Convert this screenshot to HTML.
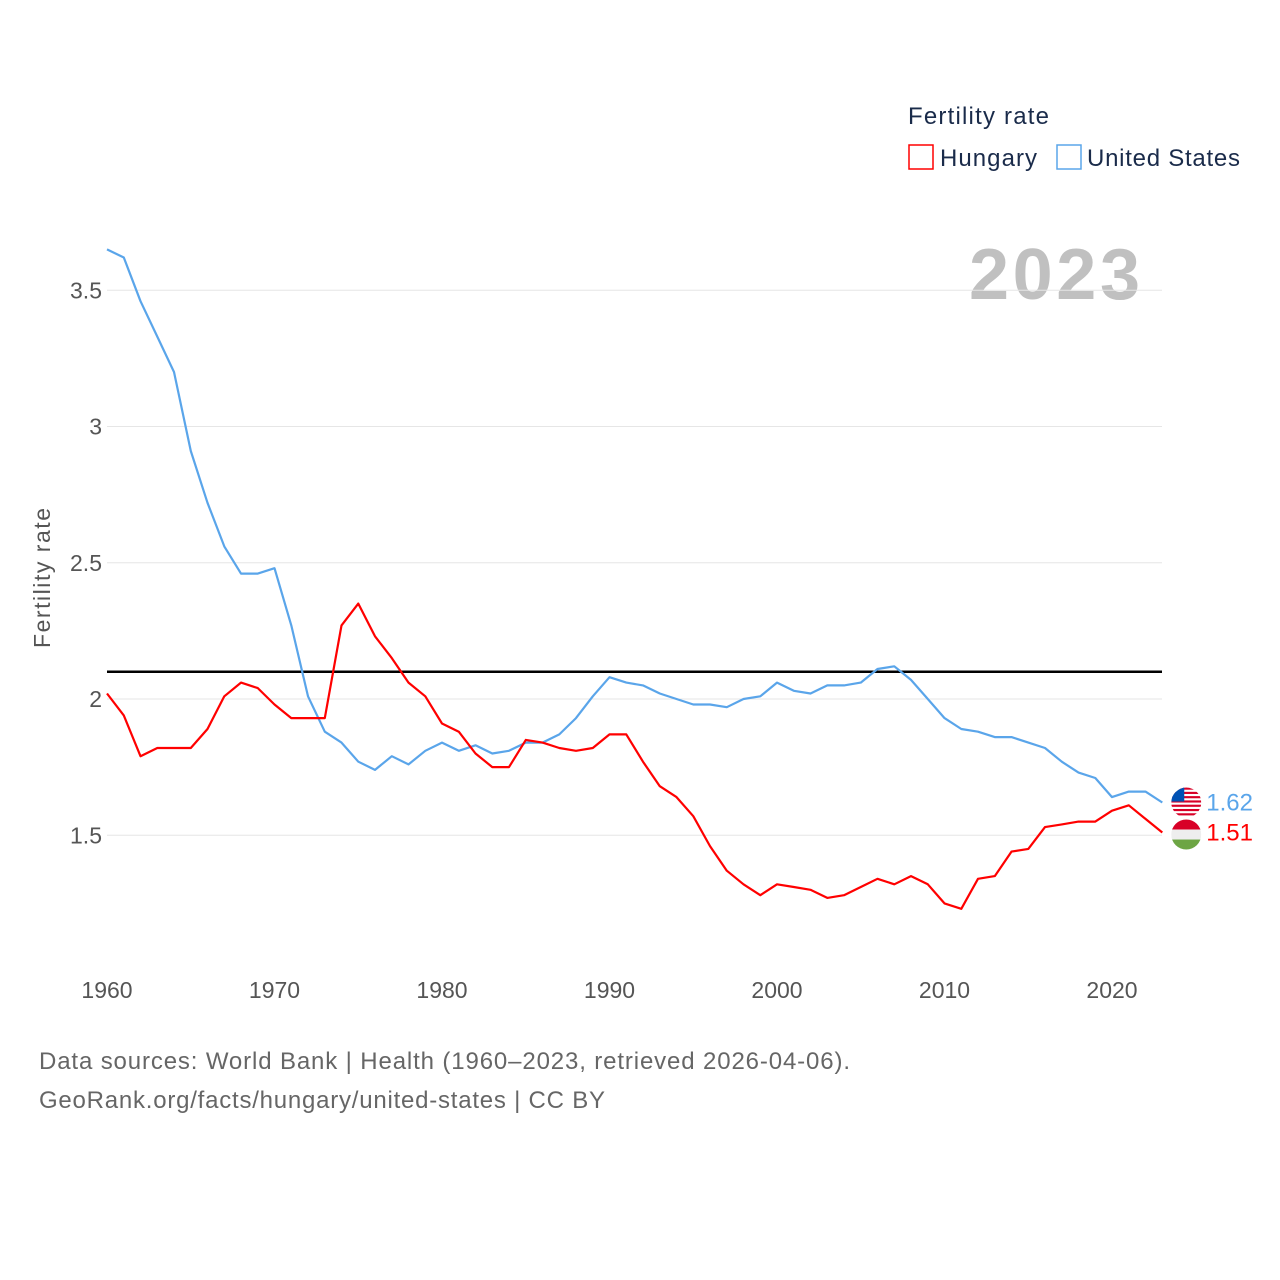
<!DOCTYPE html>
<html><head><meta charset="utf-8"><style>
html,body{margin:0;padding:0;background:#fff;}
svg{display:block;font-family:"Liberation Sans",sans-serif;}
</style></head><body>
<svg id="chart" width="1280" height="1280" viewBox="0 0 1280 1280">
<g>
<text x="908" y="124" font-size="24" fill="#1a2b4a" textLength="141">Fertility rate</text>
<rect x="909" y="145" width="24" height="24" fill="none" stroke="#ff0000" stroke-width="1.5"/>
<text x="940" y="166" font-size="24" fill="#1a2b4a" textLength="97">Hungary</text>
<rect x="1057" y="145" width="24" height="24" fill="none" stroke="#5aa5ea" stroke-width="1.5"/>
<text x="1087" y="166" font-size="24" fill="#1a2b4a" textLength="153">United States</text>
</g>
<text x="969" y="299" font-size="72" font-weight="bold" fill="#c0c0c0" textLength="171">2023</text>
<g id="grid"></g>
<g id="yticks"></g>
<g id="xticks"></g>
<text transform="translate(50,578) rotate(-90)" font-size="23" fill="#555" text-anchor="middle" textLength="140">Fertility rate</text>
<g id="series"></g>
<g id="ends"></g>
<text x="39" y="1069" font-size="24" fill="#666" textLength="811">Data sources: World Bank | Health (1960–2023, retrieved 2026-04-06).</text>
<text x="39" y="1108" font-size="24" fill="#666" textLength="566">GeoRank.org/facts/hungary/united-states | CC BY</text>
</svg>
<script>
const startYear = 1960;
const usValues = [3.65,3.62,3.46,3.33,3.20,2.91,2.72,2.56,2.46,2.46,2.48,2.27,2.01,1.88,1.84,1.77,1.74,1.79,1.76,1.81,1.84,1.81,1.83,1.80,1.81,1.84,1.84,1.87,1.93,2.01,2.08,2.06,2.05,2.02,2.00,1.98,1.98,1.97,2.00,2.01,2.06,2.03,2.02,2.05,2.05,2.06,2.11,2.12,2.07,2.00,1.93,1.89,1.88,1.86,1.86,1.84,1.82,1.77,1.73,1.71,1.64,1.66,1.66,1.62];
const huValues = [2.02,1.94,1.79,1.82,1.82,1.82,1.89,2.01,2.06,2.04,1.98,1.93,1.93,1.93,2.27,2.35,2.23,2.15,2.06,2.01,1.91,1.88,1.80,1.75,1.75,1.85,1.84,1.82,1.81,1.82,1.87,1.87,1.77,1.68,1.64,1.57,1.46,1.37,1.32,1.28,1.32,1.31,1.30,1.27,1.28,1.31,1.34,1.32,1.35,1.32,1.25,1.23,1.34,1.35,1.44,1.45,1.53,1.54,1.55,1.55,1.59,1.61,1.56,1.51];
const yTicks = [1.5,2,2.5,3,3.5];
const yTickLabels = ["1.5","2","2.5","3","3.5"];
const xTicks = [1960,1970,1980,1990,2000,2010,2020];
const replacement = 2.1;

const NS = "http://www.w3.org/2000/svg";
const X = yr => 107 + (yr - 1960) * (1112 - 107) / 60;
const Y = v => 699 - (v - 2) * 272.5;
function mk(tag, attrs, parent){const e=document.createElementNS(NS,tag);for(const k in attrs)e.setAttribute(k,attrs[k]);parent.appendChild(e);return e;}
const grid=document.getElementById('grid'), yt=document.getElementById('yticks'), xt=document.getElementById('xticks'), ser=document.getElementById('series'), ends=document.getElementById('ends');
yTicks.forEach((v,i)=>{
  const l=mk('line',{x1:107,x2:1162,y1:Y(v),y2:Y(v),stroke:'#e6e6e6','stroke-width':1},grid);
  
  
  const t=mk('text',{x:102,y:Y(v)+8,'font-size':23,fill:'#555','text-anchor':'end'},yt);
  t.textContent=yTickLabels[i];
  
  
});
xTicks.forEach(yr=>{
  const t=mk('text',{x:X(yr),y:998,'font-size':23,fill:'#555','text-anchor':'middle'},xt);
  t.textContent=String(yr);
  
  
});
const rl=mk('line',{x1:107,x2:1162,y1:Y(replacement),y2:Y(replacement),stroke:'#000','stroke-width':2.5},ser);


function line(vals,color,name){
  const d=vals.map((v,i)=>(i?'L':'M')+X(startYear+i).toFixed(1)+','+Y(v).toFixed(1)).join('');
  const p=mk('path',{d:d,fill:'none',stroke:color,'stroke-width':2.2,'stroke-linejoin':'round'},ser);
  
  
}
line(usValues,'#5aa5ea','line-united-states');
line(huValues,'#ff0000','line-hungary');
const lastX=X(startYear+usValues.length-1);
const usY=Y(usValues[usValues.length-1]);
const g1=mk('g',{},ends);


const cu=mk('clipPath',{id:'cu'},g1);
mk('circle',{cx:lastX+24,cy:usY,r:15},cu);
const fu=mk('g',{'clip-path':'url(#cu)'},g1);
for(let i=0;i<7;i++)mk('rect',{x:lastX+9,y:usY-15+i*30/7,width:30,height:30/14,fill:'#d80027'},fu);
mk('rect',{x:lastX+9,y:usY-15,width:13,height:14,fill:'#0052b4'},fu);
const t1=mk('text',{x:lastX+44,y:usY+8,'font-size':24,fill:'#5aa5ea'},g1);
t1.textContent=usValues[usValues.length-1].toFixed(2);
const huY=Y(huValues[huValues.length-1]);
const g2=mk('g',{},ends);


const cy=huY+2;
const ch=mk('clipPath',{id:'ch'},g2);
mk('circle',{cx:lastX+24,cy:cy,r:15},ch);
const fh=mk('g',{'clip-path':'url(#ch)'},g2);
mk('rect',{x:lastX+9,y:cy-15,width:30,height:10,fill:'#d80027'},fh);
mk('rect',{x:lastX+9,y:cy-5,width:30,height:10,fill:'#eeeeee'},fh);
mk('rect',{x:lastX+9,y:cy+5,width:30,height:10,fill:'#6da544'},fh);
const t2=mk('text',{x:lastX+44,y:huY+8,'font-size':24,fill:'#ff0000'},g2);
t2.textContent=huValues[huValues.length-1].toFixed(2);
</script>
</body></html>
